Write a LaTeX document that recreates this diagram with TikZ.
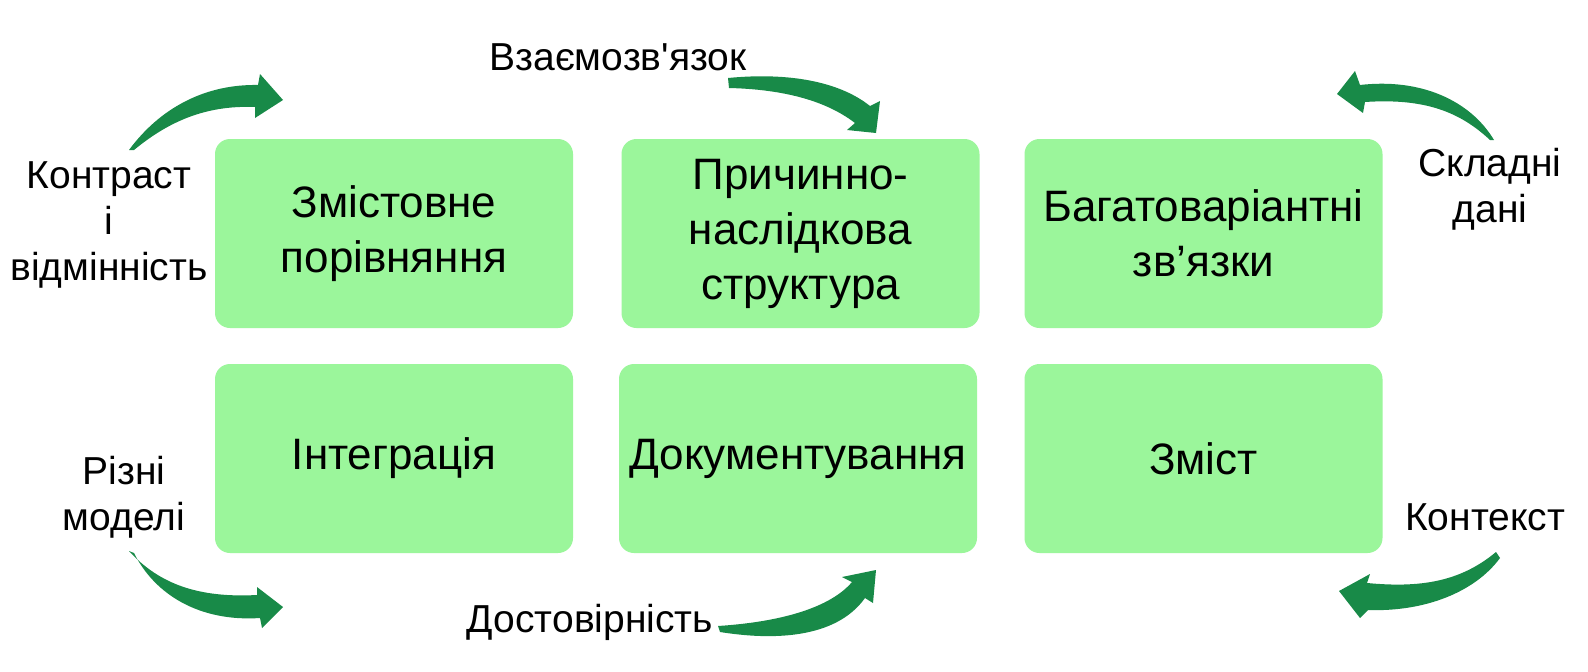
\documentclass[tikz,border=0pt]{standalone}
\usepackage{fontspec}
\setmainfont{Liberation Sans}
\definecolor{boxgreen}{RGB}{155,246,155}
\definecolor{arrowgreen}{RGB}{24,138,72}
\begin{document}
\begin{tikzpicture}[x=1pt,y=-1pt,
  card/.style={fill=boxgreen, rounded corners=15pt, minimum width=358pt, minimum height=189pt, inner sep=0pt, align=center, font=\fontsize{44}{55}\selectfont},
  lbl/.style={align=center, font=\fontsize{39}{46}\selectfont, inner sep=0pt, anchor=base}]
\useasboundingbox (0,0) rectangle (1588,672);
\fill[white] (0,0) rectangle (1588,672);
% boxes
\node[card] (b1) at (394,233.5) {Змістовне\\порівняння};
\node[card] (b2) at (800.5,233.5) {Причинно-\\наслідкова\\структура};
\node[card] (b3) at (1203.5,233.5) {Багатоваріантні\\зв’язки};
\node[card] (b4) at (394,458.5) {Інтеграція};
\node[card] (b5) at (798,458.5) {Документування};
\node[card] (b6) at (1203.5,458.5) {Зміст};
% labels (base = baseline of last line)
\node[lbl] (l1) at (618,70) {Взаємозв\textquotesingle язок};
\node[lbl] (l2) at (109,280) {Контраст\\і\\відмінність};
\node[lbl] (l3) at (1490,222) {Складні\\дані};
\node[lbl] (l4) at (124,530) {Різні\\моделі};
\node[lbl] (l5) at (590,632) {Достовірність};
\node[lbl] (l6) at (1485,530) {Контекст};
% arrows (tapered curved)
\fill[arrowgreen] (129,150) .. controls (160,108) and (205,84) .. (258,85)
  -- (260,74) -- (283,100) -- (255,118) -- (255,107)
  .. controls (205,105) and (168,122) .. (134,150) -- cycle;
\fill[arrowgreen] (728,78) .. controls (790,72) and (840,82) .. (870,106)
  -- (880,101) -- (876,133) -- (847,130) -- (855,123)
  .. controls (820,96) and (770,89) .. (729,88) -- cycle;
\fill[arrowgreen] (1494,140) .. controls (1470,100) and (1420,78) .. (1360,85)
  -- (1355,71) -- (1337,94) -- (1363,113) -- (1365,102)
  .. controls (1425,98) and (1460,112) .. (1490,140) -- cycle;
\fill[arrowgreen] (129,551) .. controls (160,585) and (200,598) .. (257,595)
  -- (257,587) -- (283,607) -- (262,628) -- (260,618)
  .. controls (200,622) and (155,595) .. (134,553) -- cycle;
\fill[arrowgreen] (718,626) .. controls (780,622) and (830,608) .. (852,582)
  -- (842,577) -- (876,570) -- (873,603) -- (865,598)
  .. controls (835,640) and (770,640) .. (720,632) -- cycle;
\fill[arrowgreen] (1496,552) .. controls (1460,582) and (1420,588) .. (1367,583)
  -- (1370,574) -- (1339,591) -- (1360,618) -- (1368,610)
  .. controls (1425,612) and (1475,592) .. (1500,558) -- cycle;
\end{tikzpicture}
\end{document}
